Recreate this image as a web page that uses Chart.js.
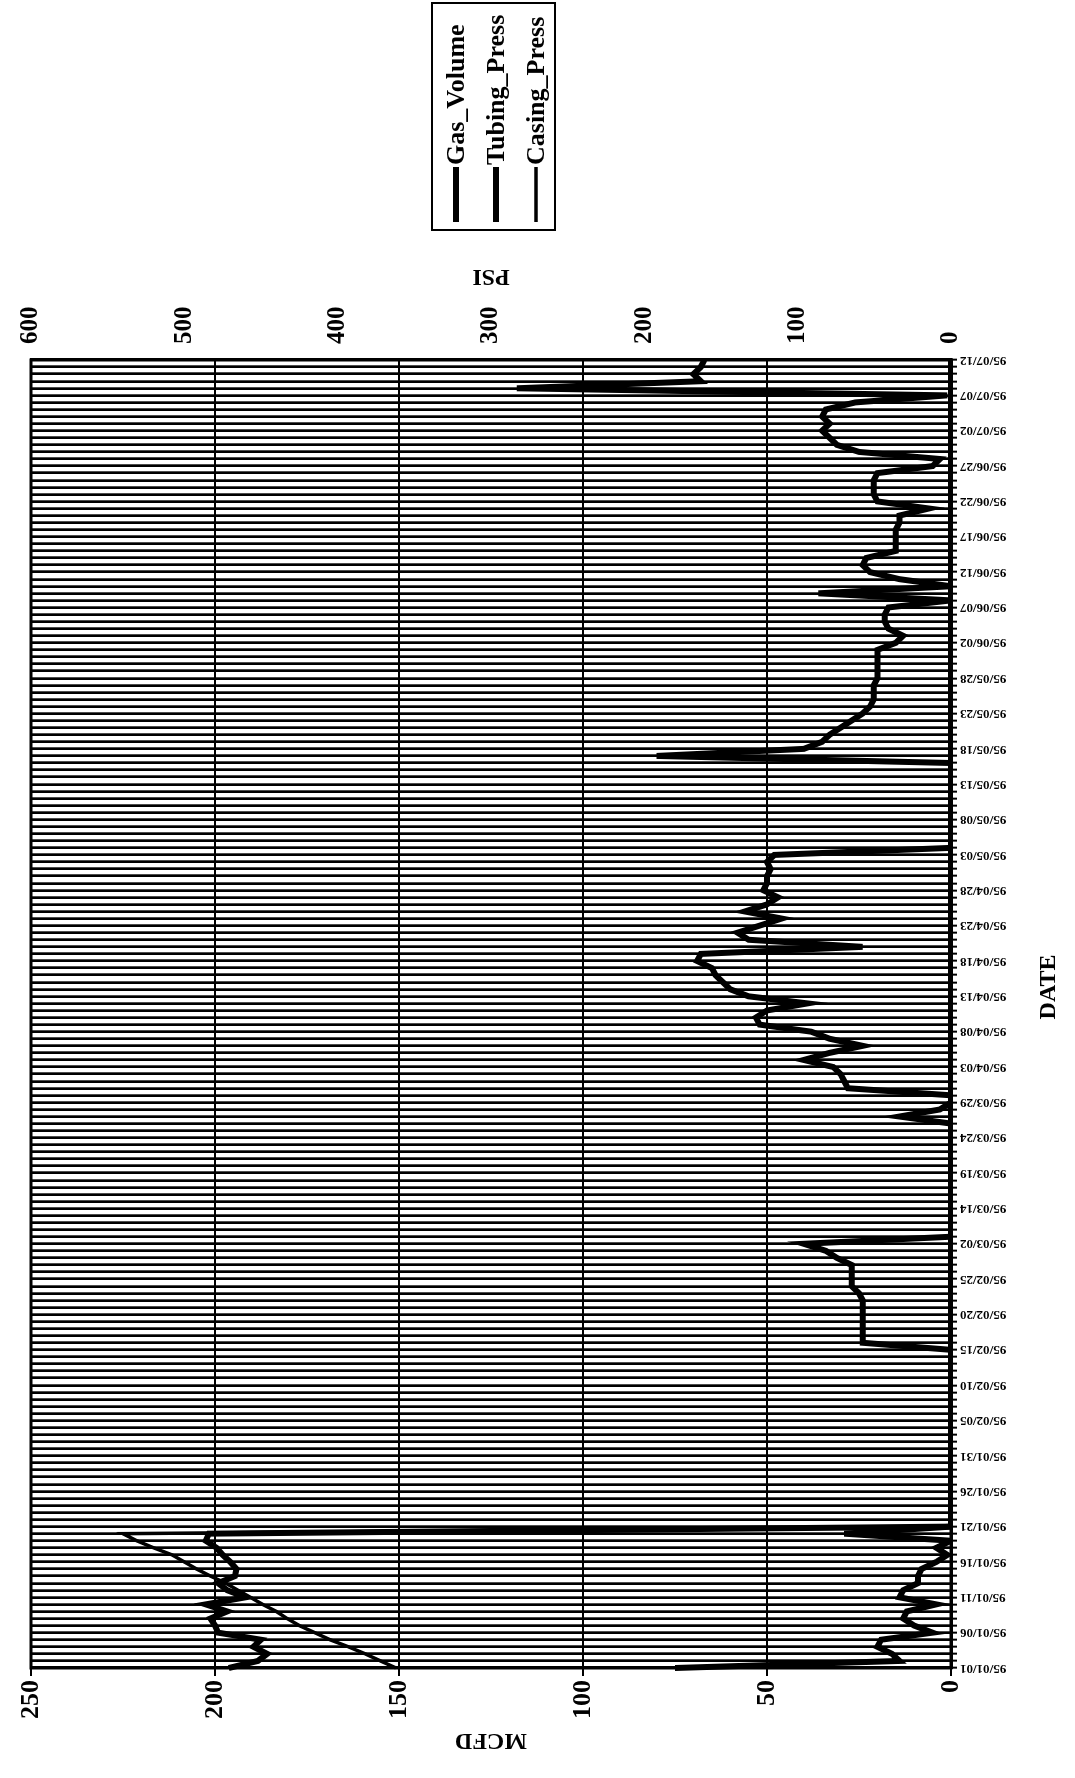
<!DOCTYPE html>
<html><head><meta charset="utf-8">
<script src="https://cdn.jsdelivr.net/npm/chart.js@4/dist/chart.umd.min.js"></script>
<style>
html,body{margin:0;padding:0;width:1075px;height:1778px;overflow:hidden;background:#fff;}
#wrap{position:absolute;left:0;top:0;width:1778px;height:1075px;transform-origin:0 0;transform:translateY(1778px) rotate(-90deg);}
</style></head><body>
<div id="wrap"><canvas id="c" width="1778" height="1075"></canvas></div>
<script>
const dates = [
"95/01/01","95/01/02","95/01/03","95/01/04","95/01/05","95/01/06","95/01/07","95/01/08","95/01/09","95/01/10",
"95/01/11","95/01/12","95/01/13","95/01/14","95/01/15","95/01/16","95/01/17","95/01/18","95/01/19","95/01/20",
"95/01/21","95/01/22","95/01/23","95/01/24","95/01/25","95/01/26","95/01/27","95/01/28","95/01/29","95/01/30",
"95/01/31","95/02/01","95/02/02","95/02/03","95/02/04","95/02/05","95/02/06","95/02/07","95/02/08","95/02/09",
"95/02/10","95/02/11","95/02/12","95/02/13","95/02/14","95/02/15","95/02/16","95/02/17","95/02/18","95/02/19",
"95/02/20","95/02/21","95/02/22","95/02/23","95/02/24","95/02/25","95/02/26","95/02/27","95/02/28","95/03/01",
"95/03/02","95/03/10","95/03/11","95/03/12","95/03/13","95/03/14","95/03/15","95/03/16","95/03/17","95/03/18",
"95/03/19","95/03/20","95/03/21","95/03/22","95/03/23","95/03/24","95/03/25","95/03/26","95/03/27","95/03/28",
"95/03/29","95/03/30","95/03/31","95/04/01","95/04/02","95/04/03","95/04/04","95/04/05","95/04/06","95/04/07",
"95/04/08","95/04/09","95/04/10","95/04/11","95/04/12","95/04/13","95/04/14","95/04/15","95/04/16","95/04/17",
"95/04/18","95/04/19","95/04/20","95/04/21","95/04/22","95/04/23","95/04/24","95/04/25","95/04/26","95/04/27",
"95/04/28","95/04/29","95/04/30","95/05/01","95/05/02","95/05/03","95/05/04","95/05/05","95/05/06","95/05/07",
"95/05/08","95/05/09","95/05/10","95/05/11","95/05/12","95/05/13","95/05/14","95/05/15","95/05/16","95/05/17",
"95/05/18","95/05/19","95/05/20","95/05/21","95/05/22","95/05/23","95/05/24","95/05/25","95/05/26","95/05/27",
"95/05/28","95/05/29","95/05/30","95/05/31","95/06/01","95/06/02","95/06/03","95/06/04","95/06/05","95/06/06",
"95/06/07","95/06/08","95/06/09","95/06/10","95/06/11","95/06/12","95/06/13","95/06/14","95/06/15","95/06/16",
"95/06/17","95/06/18","95/06/19","95/06/20","95/06/21","95/06/22","95/06/23","95/06/24","95/06/25","95/06/26",
"95/06/27","95/06/28","95/06/29","95/06/30","95/07/01","95/07/02","95/07/03","95/07/04","95/07/05","95/07/06",
"95/07/07","95/07/08","95/07/09","95/07/10","95/07/11","95/07/12"
];
const gasVolume = [
75,14,16,20,19,5,10,13,12,4,14,13,9,9,8,4,1,4,0,29,
0,0,0,0,0,0,0,0,0,0,0,0,0,0,0,0,0,0,0,0,0,0,0,0,0,0,
24,24,24,24,24,24,24,25,27,27,27,27,31,34,40,
0,0,0,0,0,0,0,0,0,0,0,0,0,0,0,0,0,
14,3,0,0,
28,29,30,32,40,33,24,33,38,52,53,50,39,55,60,62,64,65,69,68,
24,55,58,52,46,56,50,47,51,50,50,49,50,48,
0,0,0,0,0,0,0,0,0,0,0,0,0,
80,
40,35,33,30,27,24,22,21,21,21,20,
20,20,20,20,15,13,17,18,18,17,
0,36,0,14,22,24,23,15,15,15,15,14,14,6,20,21,21,21,20,5,3,
25,31,33,35,33,35,34,26,1,118,68,70,68,67
];
const tubingPress = [
471,452,446,455,450,478,480,483,472,486,460,472,478,467,466,470,475,479,486,484,
0,0,0,0,0,0,0,0,0,0,0,0,0,0,0,0,0,0,0,0,
0,0,0,0,0,0,0,0,0,0,0,0,0,0,0,0,0,0,0,0,
0,0,0,0,0,0,0,0,0,0,0,0,0,0,0,0,0,0,0,0,
0,0,0,0,0,0,0,0,0,0,0,0,0,0,0,0,0,0,0,0,
0,0,0,0,0,0,0,0,0,0,0,0,0,0,0,0,0,0,0,0,
0,0,0,0,0,0,0,0,0,0,0,0,0,0,0,0,0,0,0,0,
0,0,0,0,0,0,0,0,0,0,0,0,0,0,0,0,0,0,0,0,
0,0,0,0,0,0,0,0,0,0,0,0,0,0,0,0,0,0,0,0,
0,0,0,0,0,0
];
const casingPress = [
362,372,382,393,405,415,425,433,440,449,457,465,473,483,492,500,508,520,531,540,
0,0,0,0,0,0,0,0,0,0,0,0,0,0,0,0,0,0,0,0,
0,0,0,0,0,0,0,0,0,0,0,0,0,0,0,0,0,0,0,0,
0,0,0,0,0,0,0,0,0,0,0,0,0,0,0,0,0,0,0,0,
0,0,0,0,0,0,0,0,0,0,0,0,0,0,0,0,0,0,0,0,
0,0,0,0,0,0,0,0,0,0,0,0,0,0,0,0,0,0,0,0,
0,0,0,0,0,0,0,0,0,0,0,0,0,0,0,0,0,0,0,0,
0,0,0,0,0,0,0,0,0,0,0,0,0,0,0,0,0,0,0,0,
0,0,0,0,0,0,0,0,0,0,0,0,0,0,0,0,0,0,0,0,
0,0,0,0,0,0
];
const seriesNames = ["Gas_Volume","Tubing_Press","Casing_Press"];
const axisTitles = {date: "DATE", left: "MCFD", right: "PSI"};
const dateLabelEvery = 5;
const mcfdRange = [0, 250, 50];
const psiRange = [0, 600, 100];

const FONT = 'Liberation Serif';
const bold = (s) => ({family: FONT, weight: 'bold', size: s});

const extras = {
  id: 'extras',
  afterDraw(chart) {
    const ctx = chart.ctx;
    const a = chart.chartArea;
    ctx.save();
    ctx.strokeStyle = '#000';
    ctx.lineWidth = 3;
    ctx.strokeRect(a.left, a.top, a.right - a.left, a.bottom - a.top);
    ctx.fillStyle = '#000';
    ctx.font = 'bold 24px "' + FONT + '"';
    ctx.textAlign = 'center';
    ctx.textBaseline = 'middle';
    // DATE title
    ctx.fillText(axisTitles.date, 791, 1049);
    // PSI title
    ctx.translate(1502, (a.top + a.bottom) / 2);
    ctx.rotate(-Math.PI / 2);
    ctx.fillText(axisTitles.right, 0, 0);
    ctx.restore();
    // legend
    ctx.save();
    ctx.strokeStyle = '#000';
    ctx.lineWidth = 2;
    ctx.strokeRect(1548, 432, 227, 123);
    ctx.font = 'bold 26px "' + FONT + '"';
    ctx.textAlign = 'left';
    ctx.textBaseline = 'middle';
    ctx.fillStyle = '#000';
    chart.data.datasets.forEach((ds, k) => {
      const yy = 456 + k * 40;
      ctx.lineWidth = ds.borderWidth;
      ctx.beginPath();
      ctx.moveTo(1556, yy);
      ctx.lineTo(1611, yy);
      ctx.stroke();
      ctx.fillText(ds.label, 1613, yy + 1);
    });
    ctx.restore();
  }
};

new Chart(document.getElementById('c'), {
  type: 'line',
  data: {
    labels: dates,
    datasets: [
      {label: seriesNames[0], data: gasVolume, yAxisID: 'y', borderColor: '#000', borderWidth: 6, pointRadius: 0, tension: 0, fill: false},
      {label: seriesNames[1], data: tubingPress, yAxisID: 'y2', borderColor: '#000', borderWidth: 6, pointRadius: 0, tension: 0, fill: false},
      {label: seriesNames[2], data: casingPress, yAxisID: 'y2', borderColor: '#000', borderWidth: 3.5, pointRadius: 0, tension: 0, fill: false}
    ]
  },
  options: {
    responsive: false,
    animation: false,
    layout: {padding: {top: 17, right: 250, left: 0, bottom: 0}},
    plugins: {legend: {display: false}, tooltip: {enabled: false}},
    scales: {
      x: {
        type: 'category',
        offset: false,
        grid: {color: '#000', lineWidth: 2.7, tickLength: 6, tickColor: '#000', tickWidth: 2},
        border: {display: true, color: '#000', width: 3},
        ticks: {
          autoSkip: false, maxRotation: 90, minRotation: 90, padding: 3, color: '#000', font: bold(13),
          callback: (v, i) => (i % dateLabelEvery === 0 ? dates[i] : '')
        },
        afterFit: (s) => { s.height = 124; }
      },
      y: {
        position: 'left', min: mcfdRange[0], max: mcfdRange[1],
        ticks: {stepSize: mcfdRange[2], color: '#000', font: bold(26), padding: 4},
        grid: {color: '#000', lineWidth: 2, tickLength: 8, tickColor: '#000'},
        border: {display: true, color: '#000', width: 3},
        title: {display: true, text: axisTitles.left, color: '#000', font: bold(24), padding: {top: 23, bottom: 0}},
        afterFit: (s) => { s.width = 110; }
      },
      y2: {
        position: 'right', min: psiRange[0], max: psiRange[1],
        ticks: {stepSize: psiRange[2], color: '#000', font: bold(25), padding: 16},
        grid: {drawOnChartArea: false, drawTicks: false},
        border: {display: true, color: '#000', width: 3},
        afterFit: (s) => { s.width = 110; }
      }
    }
  },
  plugins: [extras]
});
</script>
</body></html>
